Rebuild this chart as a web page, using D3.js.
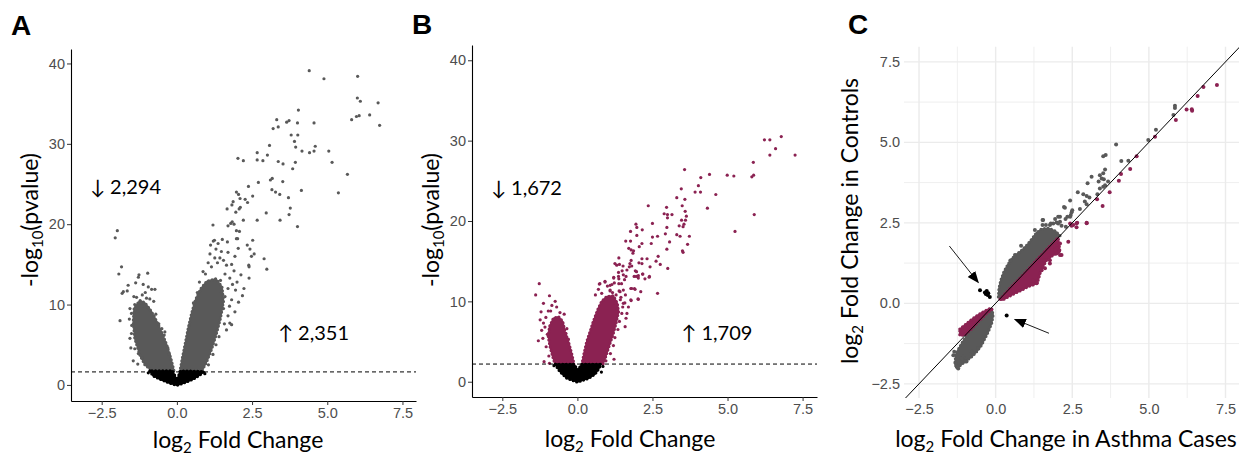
<!DOCTYPE html>
<html>
<head>
<meta charset="utf-8">
<script src="https://cdn.jsdelivr.net/npm/d3@7"></script>
<style>
body { margin: 0; background: #fff; }
svg { display: block; }
.tick text { font-family: "Liberation Sans", Arial, sans-serif; font-size: 14.5px; fill: #4d4d4d; }
.ttl { font-family: Lato, "Open Sans", sans-serif; fill: #000; }
.lbl { font-family: "Liberation Sans", Arial, sans-serif; font-weight: bold; font-size: 28px; }
</style>
</head>
<body>
<svg id="fig" width="1239" height="454"></svg>
<script>
// ---------- data ----------
const xTicks = [-2.5, 0, 2.5, 5, 7.5];
const pTicks = [0, 10, 20, 30, 40];
const cTicks = [-2.5, 0, 2.5, 5, 7.5];
const cMinor = [-1.25, 1.25, 3.75, 6.25];

// Panel A: log2FC, -log10(p)
const aGreyPts = [[4.40,39.1],[4.89,38.1],[6.01,38.4],[6.00,35.7],[6.10,35.3],[6.69,35.1],[6.41,33.6],[6.06,33.5],[5.97,33.4],[5.81,33.0],[6.74,32.3],[4.04,34.2],[3.32,33.0],[3.65,32.7],[3.73,32.9],[4.01,32.6],[4.56,32.6],[3.37,32.1],[3.20,31.9],[3.80,31.1],[4.02,31.1],[3.91,30.3],[3.95,29.6],[4.60,29.7],[4.56,29.1],[4.41,28.9],[4.16,29.1],[5.05,29.1],[5.16,27.7],[3.08,29.8],[2.67,28.9],[3.01,28.6],[2.03,28.2],[2.21,27.9],[2.67,28.0],[2.86,27.9],[3.37,27.8],[3.53,27.5],[3.94,27.7],[3.85,26.9],[5.67,26.2],[5.37,23.9],[4.14,24.2],[3.52,25.3],[3.11,25.5],[3.17,25.7],[2.71,25.2],[2.38,24.7],[3.16,24.3],[3.28,24.0],[3.42,23.7],[3.71,23.3],[3.77,22.0],[3.73,21.2],[3.43,20.5],[4.01,19.7],[2.97,21.4],[2.67,20.5],[2.21,20.5],[2.52,23.5],[2.27,23.1],[2.35,22.7],[1.98,24.0],[2.05,23.7],[2.10,23.2],[1.87,22.8],[1.83,22.4],[2.07,21.9],[2.11,22.1],[1.67,21.9],[1.96,21.5],[1.20,19.9],[1.70,19.8],[1.79,20.1],[1.90,20.0],[1.84,20.3],[2.08,19.1],[1.98,18.2],[2.52,18.0],[1.25,18.0],
  [1.21,17.9],[1.12,17.4],[1.37,17.6],[1.51,18.1],[1.68,17.8],[1.98,19.2],[2.02,18.2],[2.34,17.4],[2.43,16.9],[2.57,16.3],[2.48,16.0],[2.90,15.7],[2.99,14.4],[2.39,14.9],[2.23,12.0],[2.18,11.1],[2.40,13.3],[1.82,15.0],[1.93,16.0],[1.48,16.6],[1.43,15.8],[2.04,17.0],[2.13,13.7],[1.82,10.6],[1.93,9.1],[1.82,7.5],[1.65,6.85],[0.87,14.1],[1.04,15.2],[1.26,15.8],[1.65,14.9],[1.76,13.3],[1.48,11.6],[1.76,7.7],[2.40,14.7],
  [1.10,16.3],[1.30,16.9],[1.55,15.5],[1.70,16.5],[1.90,14.2],[2.00,12.8],[1.95,11.8],[1.70,12.0],[1.60,11.0],[1.75,9.8],[1.70,8.6],[1.55,9.5],[1.58,7.6],[1.40,6.0],[1.30,5.0],[1.20,3.8],[1.05,2.5],[0.95,13.8],[1.15,14.7],[1.35,15.2],[1.60,13.8],[1.45,13.0],[1.85,12.5],[2.05,10.3],[0.75,12.8],[0.68,11.5],[0.55,10.2],
  [-1.98,19.2],[-2.05,18.3],[-1.84,14.7],[-1.93,13.8],[-1.26,13.7],[-1.28,13.4],[-0.97,13.9],[-1.62,12.4],[-1.78,11.6],[-1.82,11.4],[-1.65,11.7],[-1.37,12.7],[-1.12,12.5],[-0.95,12.2],[-0.84,11.9],[-0.73,11.9],[-1.89,8.0],[-1.43,11.0],[-1.34,10.9],[-1.01,10.8],[-0.90,10.7],[-0.77,10.4],[-1.56,9.5],[-1.51,8.9],[-1.40,10.0],[-1.51,6.4],[-1.56,5.8],[-1.53,4.6],[-1.40,4.5],[-1.28,3.9],[-1.17,3.4],[-0.40,6.6],[-0.42,6.2],
  [-1.20,10.2],[-1.10,9.8],[-0.95,9.6],[-1.30,9.2],[-0.70,8.8],[-0.60,7.6],[-1.50,7.4],[-1.58,8.2],[-0.50,7.0],[-1.45,3.0],[-1.30,2.6],[-0.30,4.6],[-0.25,3.8],[-1.15,11.2],[-1.05,11.5]];
const aGreyLeft = [[-0.79,1.66],[-1.06,2.49],[-1.23,3.74],[-1.40,5.8],[-1.45,7.9],[-1.42,9.55],[-1.23,10.5],[-1.06,10.2],[-0.84,9.1],[-0.67,7.9],[-0.51,6.6],[-0.34,5.0],[-0.20,3.3],[-0.09,1.66]];
const aGreyRight = [[0.10,1.66],[0.18,3.3],[0.27,5.0],[0.38,7.1],[0.49,8.9],[0.62,10.6],[0.80,12.0],[1.00,12.9],[1.30,13.2],[1.50,12.2],[1.55,10.4],[1.45,8.3],[1.30,6.2],[1.15,4.4],[0.99,2.9],[0.82,1.66]];
const aBlack = [[-0.90,1.74],[-0.79,1.12],[-0.56,0.71],[-0.23,0.21],[0.0,-0.05],[0.21,0.21],[0.54,0.71],[0.76,1.21],[0.90,1.66],[0.12,1.74],[0.0,0.62],[-0.14,1.74]];
const aBlackPts = [[-0.95,1.5],[0.93,1.4],[0.60,1.0]];
const aCut = 1.62;
const aDown = "2,294", aUp = "2,351";

// Panel B
const bRedPts = [[6.79,30.5],[6.41,30.1],[6.23,30.1],[6.60,29.0],[6.41,28.2],[7.25,28.2],[5.86,27.3],[5.87,25.7],[5.81,25.5],[5.89,20.8],[5.25,18.7],[4.99,25.7],[5.21,25.6],[4.40,25.8],[4.11,25.4],[3.57,26.4],[4.03,24.4],[3.92,23.6],[4.10,23.6],[4.61,23.3],[3.46,24.0],[3.31,22.9],[3.58,22.7],[4.33,21.6],[2.36,21.9],[2.97,21.7],[3.49,21.9],[2.89,20.9],[3.00,20.8],[3.15,20.8],[3.00,20.4],[3.59,21.2],[3.63,20.6],[3.60,20.1],[3.47,20.1],[3.55,19.6],[3.52,19.3],[3.39,19.4],[2.50,19.7],[2.98,19.2],[1.95,19.6],[1.98,19.2],[2.16,18.9],[1.77,18.7],[2.93,18.4],[2.67,18.1],[2.50,18.0],[3.31,18.3],[3.42,18.1],[3.73,18.1],[1.98,18.2],[1.61,17.5],[1.77,17.5],[2.46,17.2],[3.07,17.4],[3.67,17.1],[2.15,17.2],[2.06,16.8],[1.71,16.6],[1.79,16.4],[1.87,16.3],[1.85,16.0],[2.98,16.5],[3.50,16.3],[3.52,16.1],[2.69,15.6],[2.62,15.0],[2.76,14.6],[3.01,14.1],[1.38,15.4],[2.32,15.3],[2.15,15.3],[1.79,15.1],[1.75,14.7],[1.81,14.4],[1.73,14.3],[1.25,14.7],[1.31,14.5],[1.40,14.6],[1.52,14.4],[2.05,14.8],[2.15,14.7],[2.42,14.3],[1.93,13.8],[1.97,13.7],[1.37,13.6],[1.49,13.8],[1.21,13.0],[1.38,12.8],[1.62,13.1],[1.57,12.7],[1.89,13.1],[2.03,13.2],[2.03,12.9],[2.17,13.4],[2.25,12.8],[2.39,13.0],[0.75,12.2],[0.92,12.5],[1.00,11.9],[1.15,12.1],[1.23,12.3],[1.38,12.2],[1.47,12.2],[1.53,11.4],[1.39,11.3],[1.29,10.8],[1.17,11.1],[1.09,11.3],[1.78,11.6],[1.90,11.6],[2.11,11.2],[2.67,11.0],[1.79,10.1],[2.02,10.3],[1.43,10.2],[1.58,9.8],[1.51,9.3],[1.33,9.0],
  [0.73,12.15],[0.92,12.4],[1.09,12.0],[1.21,12.9],[1.37,13.1],[1.53,13.3],[1.65,13.9],[1.96,13.1],[2.18,13.4],[2.40,13.1],[1.81,11.6],[1.92,11.5],[1.78,10.2],[2.03,10.25],[1.59,6.85],[1.22,2.8],[1.48,8.5],[1.53,9.75],[1.42,11.2],[1.09,11.4],[0.81,11.0],[1.65,8.5],[1.62,7.9],
  [1.40,7.5],[1.35,6.5],[1.25,5.5],[1.20,4.5],[1.10,3.5],[0.95,2.6],[1.45,10.5],[1.60,10.8],[1.70,9.3],[1.25,9.8],[0.70,11.5],[0.60,10.8],
  [-1.27,12.2],[-1.39,10.8],[-0.93,10.7],[-1.13,9.75],[-0.74,10.0],[-0.69,9.3],[-1.21,8.7],[-0.97,8.8],[-0.89,8.8],[-0.58,8.6],[-0.44,8.4],[-1.24,7.7],[-1.13,7.3],[-1.19,6.4],[-1.30,5.1],[-1.15,5.4],[-1.04,4.35],[-1.11,2.5],[-0.93,2.3],[-0.35,6.6],[-0.38,6.0],
  [-1.05,8.0],[-1.08,6.8],[-1.00,5.9],[-0.95,3.2],[-0.85,9.5],[-0.30,5.3]];
const bRedLeft = [[-0.74,2.16],[-0.82,3.1],[-0.91,4.35],[-0.97,5.6],[-0.93,6.85],[-0.80,7.9],[-0.63,8.1],[-0.49,7.5],[-0.41,6.2],[-0.30,5.0],[-0.19,3.5],[-0.11,2.16]];
const bRedRight = [[0.15,2.16],[0.22,3.5],[0.31,5.0],[0.42,6.2],[0.53,7.5],[0.67,8.9],[0.81,10.0],[0.98,10.6],[1.20,10.7],[1.33,9.75],[1.37,8.7],[1.29,7.3],[1.18,5.8],[1.07,4.6],[0.96,3.3],[0.85,2.16]];
const bBlack = [[-0.74,2.16],[-0.58,1.25],[-0.35,0.42],[0.0,-0.05],[0.37,0.42],[0.59,0.96],[0.70,1.54],[0.78,2.16],[0.15,2.16],[0.01,1.46],[-0.11,2.16]];
const bBlackPts = [[0.85,1.9],[0.80,1.2],[-0.78,2.0]];
const bCut = 2.2;
const bDown = "1,672", bUp = "1,709";

// Panel C: log2FC asthma cases vs controls
const cGreyPts = [[5.85,6.14],[5.85,6.07],[5.80,5.85],[5.23,5.39],[4.98,5.07],[3.93,4.93],[3.51,4.57],[3.59,4.61],[4.10,4.42],[4.33,4.43],[3.57,4.16],[3.40,3.98],[3.51,4.04],[3.46,3.88],[3.36,3.78],[3.53,3.85],[3.67,3.78],[3.57,3.67],[3.13,3.93],[3.00,3.73],[3.40,3.57],[3.51,3.62],[2.68,3.45],[2.86,3.39],[2.97,3.33],[3.06,3.29],[3.32,3.39],[2.43,3.19],[2.91,3.16],[2.97,3.08],[2.23,2.99],[2.75,2.93],[2.50,2.89],[2.04,2.69],[2.34,2.69],[2.45,2.74],[1.53,2.59],[1.53,2.43],[1.99,2.51],[1.88,2.48],[2.10,2.53],[2.15,2.41],[1.77,2.43],[2.29,2.38],
  [2.26,2.97],[2.10,2.69],[1.94,2.62],[1.80,2.48],[2.04,2.48],[2.28,2.62],[2.43,2.69],[2.48,2.83],[1.55,2.59],[1.64,2.43],[0.83,1.79],[0.63,1.50],[0.48,1.33],[1.28,2.28],
  [-1.30,-1.86],[-1.22,-2.02],[-1.00,-1.81],[-1.38,-1.61],[-0.78,-1.50],[-0.57,-1.40],[-1.06,-1.66],[-1.27,-1.97],[-0.95,-1.81],[-1.24,-1.97],[-1.11,-1.71],[-1.35,-1.50]];
const cGreyUp = [[0.09,0.20],[0.11,0.47],[0.17,0.72],[0.27,0.98],[0.39,1.19],[0.52,1.38],[0.68,1.52],[0.87,1.66],[1.04,1.83],[1.20,2.02],[1.34,2.20],[1.50,2.31],[1.72,2.33],[1.94,2.25],[2.10,2.10],[1.61,1.60],[1.06,1.03],[0.52,0.48],[0.20,0.20]];
const cGreyLow = [[-0.13,-0.18],[-0.08,-0.36],[-0.13,-0.62],[-0.24,-0.88],[-0.35,-1.09],[-0.46,-1.30],[-0.62,-1.50],[-0.78,-1.66],[-1.00,-1.81],[-1.17,-1.94],[-1.27,-2.02],[-1.33,-1.86],[-1.30,-1.60],[-1.20,-1.40],[-1.08,-1.20],[-0.95,-1.02],[-0.82,-0.86],[-0.66,-0.68],[-0.48,-0.50],[-0.30,-0.30]];
const cRedPts = [[7.22,6.78],[6.78,6.72],[6.59,6.44],[6.23,6.02],[6.40,6.03],[6.41,5.98],[5.88,5.69],[5.20,5.17],[4.60,4.57],[4.39,4.17],[4.09,4.02],[4.02,3.81],[3.72,3.45],[3.31,3.23],[3.49,3.02],[2.97,2.49],[2.64,2.49],[2.64,2.36],[2.48,2.41],[1.99,1.55],[2.07,1.63],[1.77,1.24],[1.58,1.34],[2.37,1.91],[2.53,2.43],[2.66,2.50],[2.97,2.50],[1.94,1.76],[1.34,0.62],[1.23,0.72],[1.99,1.71],[2.10,1.50],
  [1.77,1.34],[1.50,1.03],[1.61,1.09],[1.34,0.65],[1.20,0.59],[2.15,1.50],[1.94,1.66],[2.43,2.48],[2.10,1.86]];
const cRedRight = [[0.14,0.13],[0.52,0.52],[0.96,0.95],[1.39,1.40],[1.72,1.73],[2.04,2.04],[2.10,1.60],[1.88,1.50],[1.66,1.34],[1.55,1.14],[1.45,0.93],[1.39,0.72],[1.28,0.59],[1.06,0.52],[0.85,0.41],[0.63,0.31],[0.41,0.20],[0.22,0.10]];
const cRedLeft = [[-1.17,-0.80],[-1.00,-0.67],[-0.81,-0.52],[-0.62,-0.39],[-0.40,-0.26],[-0.19,-0.16],[-0.11,-0.18],[-0.29,-0.31],[-0.57,-0.57],[-0.78,-0.79],[-1.00,-0.98],[-1.17,-1.00]];
const cBlackPts = [[-0.51,0.41],[-0.35,0.34],[-0.29,0.38],[-0.24,0.31],[-0.19,0.20],[-0.26,0.26],[-0.32,0.29],[0.36,-0.38]];
const cArrows = [[-1.51,1.78,-0.57,0.65],[1.74,-0.93,0.63,-0.50]];

const grey = "#595959", maroon = "#8b2252";

const svg = d3.select("#fig");
const defs = svg.append("defs");

defs.append("marker")
    .attr("id", "head")
    .attr("viewBox", "0 0 10 10")
    .attr("refX", 9).attr("refY", 5)
    .attr("markerWidth", 12).attr("markerHeight", 12)
    .attr("markerUnits", "userSpaceOnUse")
    .attr("orient", "auto")
  .append("path")
    .attr("d", "M0,1 L10,5 L0,9 Z")
    .attr("fill", "#000");

// dense cloud: filled outline with a dotted rim so the edge looks speckled
function blob(g, x, y, pts, col) {
    const line = d3.line().x(d => x(d[0])).y(d => y(d[1])).curve(d3.curveLinearClosed);
    g.append("path")
        .datum(pts)
        .attr("d", line)
        .attr("fill", col)
        .attr("stroke", col)
        .attr("stroke-width", 1.5)
        .attr("stroke-linejoin", "round");
    g.append("path")
        .datum(pts)
        .attr("d", line)
        .attr("fill", "none")
        .attr("stroke", col)
        .attr("stroke-width", 3.2)
        .attr("stroke-linecap", "round")
        .attr("stroke-dasharray", "0,3.6");
}
function dots(g, x, y, pts, col, r) {
    g.append("g").selectAll("circle")
        .data(pts)
        .join("circle")
        .attr("cx", d => x(d[0]))
        .attr("cy", d => y(d[1]))
        .attr("r", r)
        .attr("fill", col);
}
function sub(t, a, s, b) {
    t.append("tspan").text(a);
    t.append("tspan").attr("font-size", 15).attr("dy", 5).text(s);
    t.append("tspan").attr("dy", -5).text(b);
}

// volcano panel (A and B)
function volcano(opt) {
    const x = d3.scaleLinear().domain(opt.xd).range(opt.xr);
    const y = d3.scaleLinear().domain(opt.yd).range(opt.yr);
    const g = svg.append("g");

    opt.blobs.forEach(b => blob(g, x, y, b, opt.col));
    dots(g, x, y, opt.pts, opt.col, 1.6);
    blob(g, x, y, opt.black, "#000");
    dots(g, x, y, opt.blackPts, "#000", 1.6);

    g.append("line")
        .attr("x1", opt.xr[0]).attr("x2", opt.xr[1])
        .attr("y1", y(opt.cut)).attr("y2", y(opt.cut))
        .attr("stroke", "#000").attr("stroke-width", 1)
        .attr("stroke-dasharray", "4,3");

    const ax = g.append("g")
        .attr("transform", `translate(0,${opt.yr[0]})`)
        .call(d3.axisBottom(x).tickValues(xTicks).tickFormat(d3.format(".1f")).tickSize(4).tickSizeOuter(0).tickPadding(3));
    const ay = g.append("g")
        .attr("transform", `translate(${opt.xr[0]},0)`)
        .call(d3.axisLeft(y).tickValues(pTicks).tickSize(4).tickSizeOuter(0).tickPadding(2));
    [ax, ay].forEach(a => {
        a.select(".domain").attr("stroke", "#000").attr("stroke-width", 1.1);
        a.selectAll(".tick line").attr("stroke", "#333");
    });

    // titles
    sub(g.append("text").attr("class", "ttl")
        .attr("x", opt.xTitle[0]).attr("y", opt.xTitle[1])
        .attr("text-anchor", "middle").attr("font-size", 23), "log", "2", " Fold Change");
    sub(g.append("text").attr("class", "ttl")
        .attr("transform", `translate(${opt.yTitle[0]},${opt.yTitle[1]}) rotate(-90)`)
        .attr("text-anchor", "middle").attr("font-size", 23), "-log", "10", "(pvalue)");

    g.append("text").attr("class", "ttl").attr("font-size", 20)
        .attr("x", x(opt.down[0])).attr("y", y(opt.down[1]))
        .text("\u2193 " + opt.down[2]);
    g.append("text").attr("class", "ttl").attr("font-size", 20)
        .attr("x", x(opt.up[0])).attr("y", y(opt.up[1]))
        .text("\u2191 " + opt.up[2]);

    svg.append("text").attr("class", "lbl")
        .attr("x", opt.letter[0]).attr("y", opt.letter[1]).text(opt.letter[2]);
}

volcano({
    xd: [-3.52, 7.95], xr: [71, 416], yd: [-2.0, 41.8], yr: [401, 49],
    col: grey, pts: aGreyPts, blobs: [aGreyLeft, aGreyRight],
    black: aBlack, blackPts: aBlackPts, cut: aCut,
    down: [-2.89, 23.7, aDown], up: [3.36, 5.6, aUp],
    xTitle: [238, 448], yTitle: [38, 220], letter: [11, 35, "A"]
});

volcano({
    xd: [-3.51, 7.98], xr: [472, 817], yd: [-1.9, 41.9], yr: [397, 45],
    col: maroon, pts: bRedPts, blobs: [bRedLeft, bRedRight],
    black: bBlack, blackPts: bBlackPts, cut: bCut,
    down: [-2.88, 23.2, bDown], up: [3.46, 5.2, bUp],
    xTitle: [630, 447], yTitle: [439, 220], letter: [412, 34, "B"]
});

// ---------- Panel C ----------
const cx = d3.scaleLinear().domain([-2.99, 7.94]).range([904, 1239]);
const cy = d3.scaleLinear().domain([-2.94, 7.97]).range([398, 46.7]);
const gc = svg.append("g");

defs.append("clipPath").attr("id", "clipC")
  .append("rect").attr("x", 904).attr("y", 46.7).attr("width", 335).attr("height", 351.3);

// grid
gc.append("g").selectAll("line").data(cMinor).join("line")
    .attr("x1", d => cx(d)).attr("x2", d => cx(d)).attr("y1", 46.7).attr("y2", 398)
    .attr("stroke", "#ebebeb").attr("stroke-width", 0.8);
gc.append("g").selectAll("line").data(cMinor).join("line")
    .attr("y1", d => cy(d)).attr("y2", d => cy(d)).attr("x1", 904).attr("x2", 1239)
    .attr("stroke", "#ebebeb").attr("stroke-width", 0.8);
gc.append("g").selectAll("line").data(cTicks).join("line")
    .attr("x1", d => cx(d)).attr("x2", d => cx(d)).attr("y1", 46.7).attr("y2", 398)
    .attr("stroke", "#ebebeb").attr("stroke-width", 1.4);
gc.append("g").selectAll("line").data(cTicks).join("line")
    .attr("y1", d => cy(d)).attr("y2", d => cy(d)).attr("x1", 904).attr("x2", 1239)
    .attr("stroke", "#ebebeb").attr("stroke-width", 1.4);

const gp = gc.append("g").attr("clip-path", "url(#clipC)");
blob(gp, cx, cy, cGreyUp, grey);
blob(gp, cx, cy, cGreyLow, grey);
dots(gp, cx, cy, cGreyPts, grey, 2);
blob(gp, cx, cy, cRedRight, maroon);
blob(gp, cx, cy, cRedLeft, maroon);
dots(gp, cx, cy, cRedPts, maroon, 2);
dots(gp, cx, cy, cBlackPts, "#000", 2);

// y = x reference line
gp.append("line")
    .attr("x1", cx(-4)).attr("y1", cy(-4)).attr("x2", cx(9)).attr("y2", cy(9))
    .attr("stroke", "#000").attr("stroke-width", 1);

gc.append("g").selectAll("line").data(cArrows).join("line")
    .attr("x1", d => cx(d[0])).attr("y1", d => cy(d[1]))
    .attr("x2", d => cx(d[2])).attr("y2", d => cy(d[3]))
    .attr("stroke", "#000").attr("stroke-width", 0.9)
    .attr("marker-end", "url(#head)");

const cax = gc.append("g").attr("transform", "translate(0,398)")
    .call(d3.axisBottom(cx).tickValues(cTicks).tickFormat(d3.format(".1f")).tickSize(0).tickPadding(6));
const cay = gc.append("g").attr("transform", "translate(904,0)")
    .call(d3.axisLeft(cy).tickValues(cTicks).tickFormat(d3.format(".1f")).tickSize(0).tickPadding(4));
cax.select(".domain").remove();
cay.select(".domain").remove();

sub(gc.append("text").attr("class", "ttl")
    .attr("x", 1066).attr("y", 447).attr("text-anchor", "middle").attr("font-size", 23),
    "log", "2", " Fold Change in Asthma Cases");
sub(gc.append("text").attr("class", "ttl")
    .attr("transform", "translate(858,221) rotate(-90)").attr("text-anchor", "middle").attr("font-size", 23),
    "log", "2", " Fold Change in Controls");

svg.append("text").attr("class", "lbl").attr("x", 848).attr("y", 34).text("C");
</script>
</body>
</html>
